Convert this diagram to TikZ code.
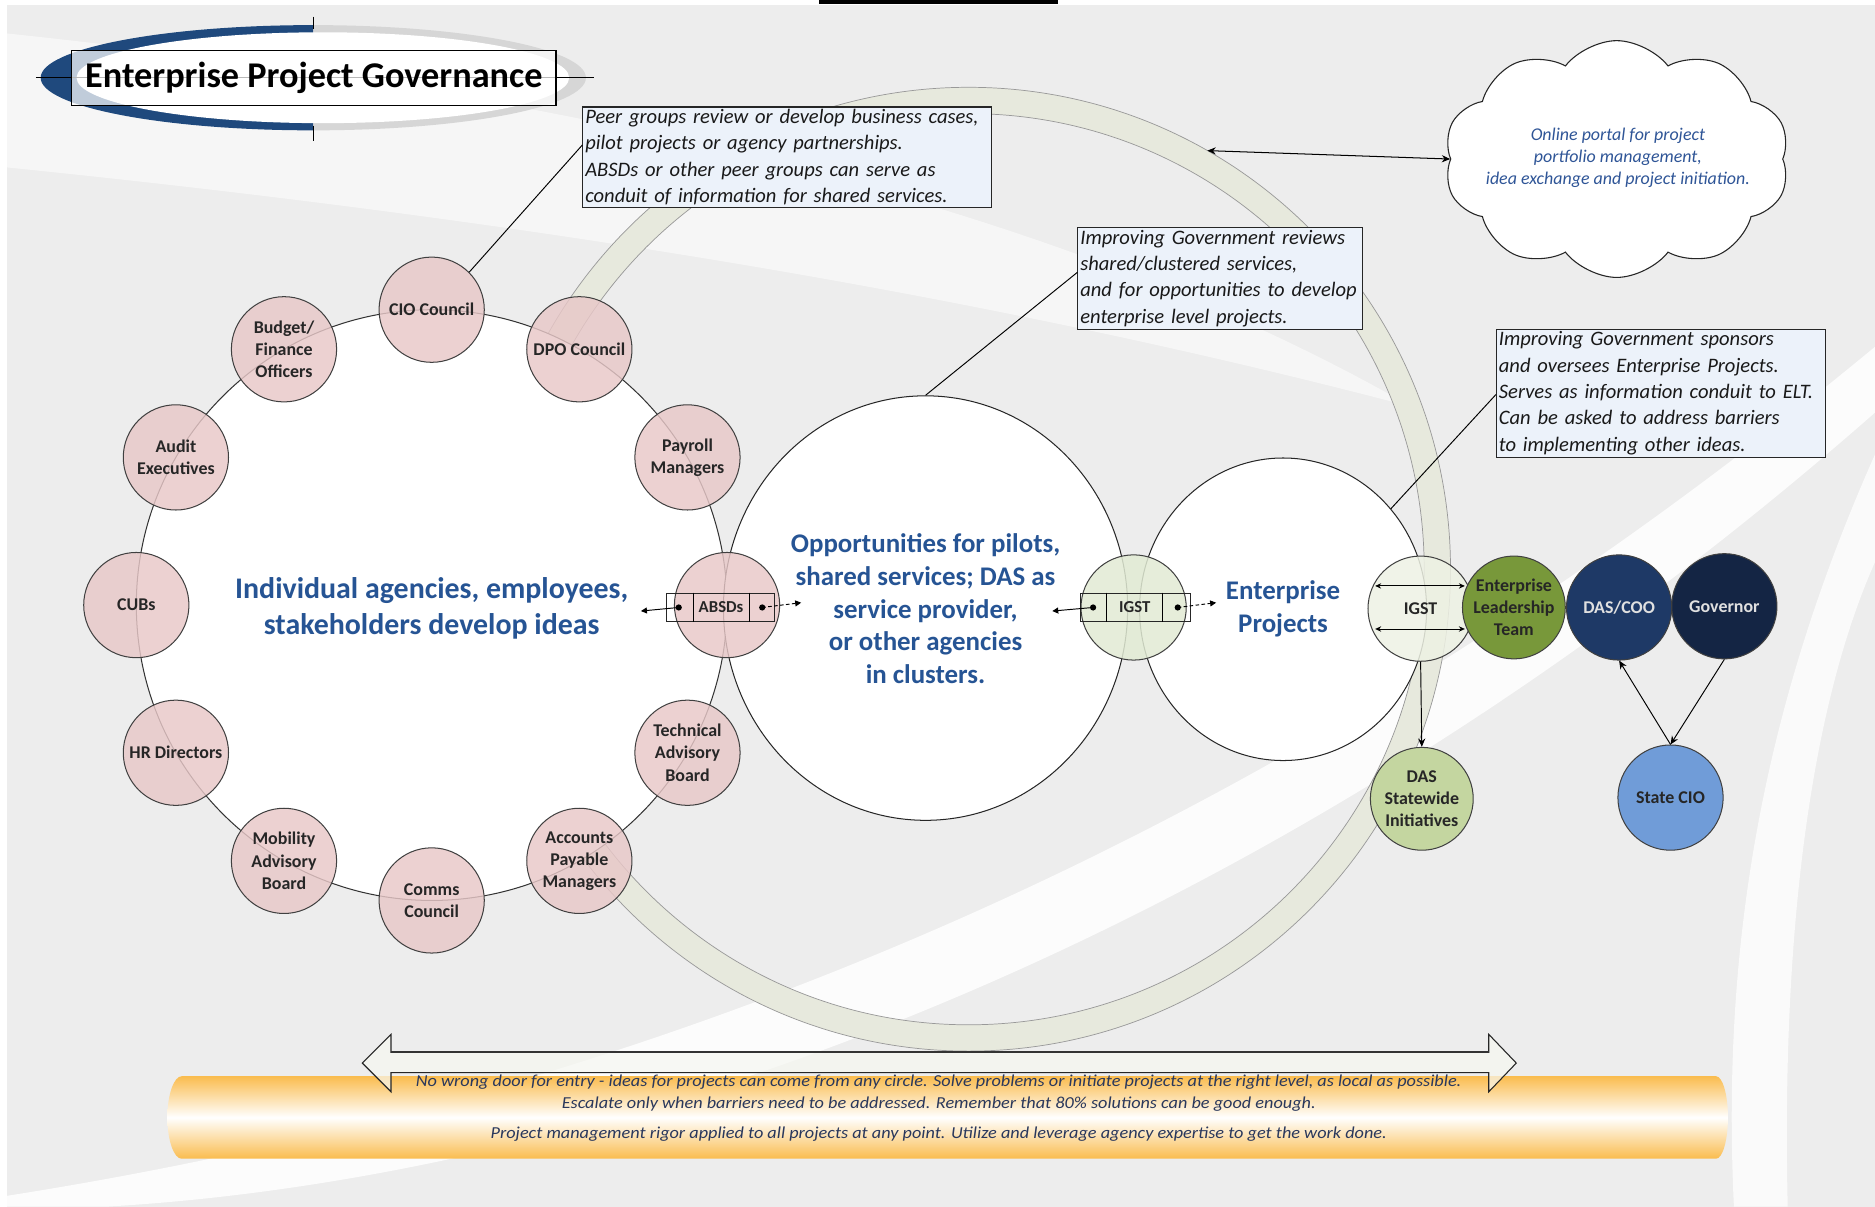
\documentclass[tikz,border=0pt]{standalone}
\usepackage{fontspec}
\setmainfont{Carlito}
\usetikzlibrary{shapes.geometric,shapes.symbols,arrows.meta,calc}
\definecolor{bggray}{RGB}{237,237,237}
\definecolor{pinkfill}{RGB}{232,200,200}
\definecolor{ringpale}{RGB}{231,233,221}
\definecolor{navycol}{RGB}{31,73,125}
\definecolor{graycres}{RGB}{214,214,214}
\definecolor{bluetext}{RGB}{38,84,148}
\definecolor{calloutfill}{RGB}{236,242,250}
\definecolor{igstAcol}{RGB}{226,235,212}
\definecolor{igstBcol}{RGB}{238,242,228}
\definecolor{eltcol}{RGB}{120,152,58}
\definecolor{dascoocol}{RGB}{30,57,102}
\definecolor{govcol}{RGB}{20,37,68}
\definecolor{stciocol}{RGB}{112,156,216}
\definecolor{dasswcol}{RGB}{196,214,160}
\definecolor{bandorange}{RGB}{250,188,78}
\definecolor{bandtext}{RGB}{42,56,92}
\definecolor{cloudtext}{RGB}{47,85,151}
\definecolor{arrowfill}{RGB}{246,247,241}
\newcommand\setfs[2]{\fontsize{#1}{#2}\selectfont}
\newcommand\nohyph{\hyphenpenalty 10000 \exhyphenpenalty 10000\relax}
\begin{document}
\begin{tikzpicture}[x=1pt,y=-1pt,line width=0.85pt,
  pinkcirc/.style={circle,minimum size=88pt,inner sep=0pt,draw=black!75,fill=pinkfill,fill opacity=0.82,text opacity=1,align=center,font=\bfseries\setfs{15}{18.5},text=black!85},
  smallcirc/.style={circle,minimum size=88pt,inner sep=0pt,draw=black!75,align=center,font=\bfseries\setfs{15}{18.5},text=black!85},
  callout/.style={draw=black!85,line width=0.9pt,fill=calloutfill,align=left,anchor=north west,font=\itshape\setfs{17.2}{22}\nohyph,inner xsep=2pt,inner ysep=2pt,text=black!90},
  bigtext/.style={align=center,font=\bfseries\setfs{22.5}{27.5},text=bluetext},
  bandline/.style={font=\itshape\setfs{14}{16},text=bandtext},
  tip/.style={-{Stealth[length=7pt,width=6pt]}},
  dtip/.style={{Stealth[length=7pt,width=6pt]}-{Stealth[length=7pt,width=6pt]}},
  smalltip/.style={-{Triangle[length=5pt,width=5pt]}},
  smalldtip/.style={{Stealth[length=5pt,width=4.5pt]}-{Stealth[length=5pt,width=4.5pt]}},
  boxlabel/.style={font=\bfseries\setfs{14}{16},text=black!85,inner sep=0pt}
]
\useasboundingbox (0,0) rectangle (1568,1009);
% background
\fill[bggray] (0,0) rectangle (1568,1009);
\fill[white] (0,0) rectangle (1568,4);
\fill[white] (0,0) rectangle (6,1009);
\fill[black] (685,0) rectangle (885,3);
% white swooshes
\fill[white,opacity=0.55] (6,28) .. controls (400,70) and (850,150) .. (1180,340) .. controls (800,240) and (400,180) .. (6,140) -- cycle;
\fill[white,opacity=0.85] (6,1000) .. controls (450,930) and (1000,760) .. (1568,290) -- (1568,345) .. controls (1050,800) and (500,985) .. (90,1009) -- (6,1009) -- cycle;
\fill[white,opacity=0.75] (1568,380) .. controls (1470,600) and (1440,800) .. (1450,1009) -- (1495,1009) .. controls (1490,800) and (1510,600) .. (1568,470) -- cycle;
% title decoration
\begin{scope}
  \clip (0,0) rectangle (262,140);
  \fill[navycol] (262,65) ellipse [x radius=228pt, y radius=44pt];
\end{scope}
\begin{scope}
  \clip (262,0) rectangle (600,140);
  \fill[graycres] (262,65) ellipse [x radius=228pt, y radius=44pt];
\end{scope}
\fill[white] (270,65) ellipse [x radius=206pt, y radius=38pt];
\draw[line width=0.9pt] (30,65) -- (497,65);
\draw (262,14) -- (262,24);
\draw (262,105) -- (262,118);
\node[draw,line width=1pt,fill=white,fill opacity=0.72,text opacity=1,minimum width=405pt,minimum height=46pt,inner sep=0pt,font=\bfseries\setfs{30.3}{36}] (title) at (262.5,65) {Enterprise Project Governance};
% pale big ring
\fill[ringpale,even odd rule] (810,476) circle (403pt) (810,476) circle (381pt);
\draw[gray!80,line width=0.6pt] (810,476) circle (403pt);
\draw[gray!80,line width=0.6pt] (810,476) circle (381pt);
\coordinate (ringpt) at ($(810,476)+(60.3:403pt)$);
% main circles
\coordinate (ringc) at (361,506);
\node[circle,draw=black!80,fill=white,minimum size=494pt,inner sep=0pt] (ringcirc) at (ringc) {};
\node[ellipse,draw=black!85,fill=white,minimum width=338pt,minimum height=355pt,inner sep=0pt] (opp) at (774,508.5) {};
\node[ellipse,draw=black!85,fill=white,minimum width=240pt,minimum height=253pt,inner sep=0pt] (ep) at (1073,509.5) {};
% pink circles
\node[pinkcirc] (cio) at ($(ringc)+(90:247pt)$) {CIO Council};
\node[pinkcirc] (dpo) at ($(ringc)+(60:247pt)$) {DPO Council};
\node[pinkcirc] (payroll) at ($(ringc)+(30:247pt)$) {Payroll\\Managers};
\node[pinkcirc] (absds) at ($(ringc)+(0:247pt)$) {};
\node[pinkcirc] (tab) at ($(ringc)+(-30:247pt)$) {Technical\\Advisory\\Board};
\node[pinkcirc] (apm) at ($(ringc)+(-60:247pt)$) {Accounts\\Payable\\Managers};
\node[pinkcirc] (comms) at ($(ringc)+(-90:247pt)$) {Comms\\Council};
\node[pinkcirc] (mab) at ($(ringc)+(-120:247pt)$) {Mobility\\Advisory\\Board};
\node[pinkcirc] (hr) at ($(ringc)+(-150:247pt)$) {HR Directors};
\node[pinkcirc] (cubs) at ($(ringc)+(180:247pt)$) {CUBs};
\node[pinkcirc] (audit) at ($(ringc)+(150:247pt)$) {Audit\\Executives};
\node[pinkcirc] (budget) at ($(ringc)+(120:247pt)$) {Budget/\\Finance\\Officers};
% green / blue circles
\node[smallcirc,fill=igstAcol,fill opacity=0.85,text opacity=1] (igst1) at (948,508) {};
\node[smallcirc,fill=igstBcol,fill opacity=0.85,text opacity=1] (igst2) at (1188,509) {IGST};
\node[smallcirc,fill=eltcol,minimum size=86pt] (elt) at (1266,508) {Enterprise\\Leadership\\Team};
\node[smallcirc,fill=dascoocol,text=white!88!black] (dascoo) at (1354,508) {DAS/COO};
\node[smallcirc,fill=govcol,text=white!88!black] (gov) at (1442,507) {Governor};
\node[smallcirc,fill=stciocol] (stcio) at (1397,667) {State CIO};
\node[smallcirc,fill=dasswcol,minimum size=86pt] (dassw) at (1189,668) {DAS\\Statewide\\Initiatives};
% big texts
\node[align=center,font=\bfseries\setfs{25}{30},text=bluetext] (indtext) at (361,509) {Individual agencies, employees,\\stakeholders develop ideas};
\node[bigtext] (opptext) at (774,509) {Opportunities for pilots,\\shared services; DAS as\\service provider,\\or other agencies\\in clusters.};
\node[bigtext] (eptext) at (1073,509) {Enterprise\\Projects};
% ABSDs box
\node[draw=black!85,line width=0.8pt,minimum width=91pt,minimum height=24pt,inner sep=0pt] (absbox) at (602.5,508) {};
\draw[line width=0.8pt] ([xshift=23pt]absbox.north west) -- ([xshift=23pt]absbox.south west);
\draw[line width=0.8pt] ([xshift=-22pt]absbox.north east) -- ([xshift=-22pt]absbox.south east);
\node[boxlabel] (abslabel) at (603,508) {ABSDs};
\coordinate (absL) at ([xshift=11pt]absbox.west);
\coordinate (absR) at ([xshift=-11pt]absbox.east);
\fill (absL) circle (2.6pt);
\fill (absR) circle (2.6pt);
\coordinate (absLend) at (536,511);
\coordinate (absRend) at (670,504);
\draw[smalltip,line width=0.8pt] (absL) -- (absLend);
\draw[smalltip,densely dashed,line width=0.8pt] (absR) -- (absRend);
% IGST box
\node[draw=black!85,line width=0.8pt,minimum width=92pt,minimum height=24pt,inner sep=0pt] (igstbox) at (949.5,508) {};
\draw[line width=0.8pt] ([xshift=22.5pt]igstbox.north west) -- ([xshift=22.5pt]igstbox.south west);
\draw[line width=0.8pt] ([xshift=-23.5pt]igstbox.north east) -- ([xshift=-23.5pt]igstbox.south east);
\node[boxlabel] (igstlabel) at (949,508) {IGST};
\coordinate (igL) at ([xshift=11pt]igstbox.west);
\coordinate (igR) at ([xshift=-11pt]igstbox.east);
\fill (igL) circle (2.6pt);
\fill (igR) circle (2.6pt);
\coordinate (igLend) at (880,511);
\coordinate (igRend) at (1017,504);
\draw[smalltip,line width=0.8pt] (igL) -- (igLend);
\draw[smalltip,densely dashed,line width=0.8pt] (igR) -- (igRend);
% IGST2 inner arrows
\draw[smalldtip,line width=0.8pt] ([shift={(-38pt,19pt)}]igst2.center) -- ([shift={(37pt,19pt)}]igst2.center);
\draw[smalldtip,line width=0.8pt] ([shift={(-38pt,-17pt)}]igst2.center) -- ([shift={(37pt,-17pt)}]igst2.center);
% connectors
\draw[tip,line width=0.8pt] (igst2.south) -- (dassw.north);
\draw[tip,line width=0.8pt] (stcio.north) -- (dascoo.south);
\draw[tip,line width=0.8pt] (gov.south) -- (stcio.north);
% callouts
\node[callout,text width=338pt] (peer) at (487,89) {Peer groups review or develop business cases,\\pilot projects or agency partnerships.\\ABSDs or other peer groups can serve as\\conduit of information for shared services.};
\node[callout,text width=234pt] (rev) at (901,190) {Improving Government reviews\\shared/clustered services,\\and for opportunities to develop\\enterprise level projects.};
\node[callout,text width=271pt] (spons) at (1251,275) {Improving Government sponsors\\and oversees Enterprise Projects.\\Serves as information conduit to ELT.\\Can be asked to address barriers\\to implementing other ideas.};
\draw[line width=0.8pt] (cio.45) -- ($(peer.north west)!0.38!(peer.south west)$);
\draw[line width=0.8pt] (opp.north) -- ($(rev.north west)!0.44!(rev.south west)$);
\draw[line width=0.8pt] (ep.43) -- ($(spons.north west)!0.51!(spons.south west)$);
% cloud
\node[cloud,draw=black!85,line width=0.9pt,fill=white,cloud puffs=10,cloud puff arc=105,aspect=1.5,minimum width=289pt,minimum height=198pt,inner sep=0pt] (cloud) at (1352,133) {};
\node[align=center,font=\itshape\setfs{15}{18.5},text=cloudtext] (cloudtext) at (1353,132) {Online portal for project\\portfolio management,\\idea exchange and project initiation.};
\draw[dtip,line width=0.85pt] (ringpt) -- (cloud.west);
% bottom band
\shade[top color=bandorange,bottom color=bandorange,middle color=white] (162,900) -- (1435,900) arc [start angle=90,end angle=-90,x radius=10pt,y radius=34.5pt] -- (152,969) arc [start angle=270,end angle=90,x radius=12pt,y radius=34.5pt] -- cycle;
% double arrow
\draw[fill=arrowfill,fill opacity=0.7,draw=black!85,line width=0.9pt] (303,889) -- (327,865) -- (327,880) -- (1245,880) -- (1245,865) -- (1268,889) -- (1245,913) -- (1245,897) -- (327,897) -- (327,913) -- cycle;
\draw[line width=1.6pt,black!80] (327,880) -- (1245,880);
\node[bandline] (band1) at (785,905) {\scalebox{1.09}[1]{No wrong door for entry - ideas for projects can come from any circle. Solve problems or initiate projects at the right level, as local as possible.}};
\node[bandline] (band2) at (785,923) {\scalebox{1.09}[1]{Escalate only when barriers need to be addressed. Remember that 80\% solutions can be good enough.}};
\node[bandline] (band3) at (785,948) {\scalebox{1.09}[1]{Project management rigor applied to all projects at any point. Utilize and leverage agency expertise to get the work done.}};
\end{tikzpicture}
\end{document}
